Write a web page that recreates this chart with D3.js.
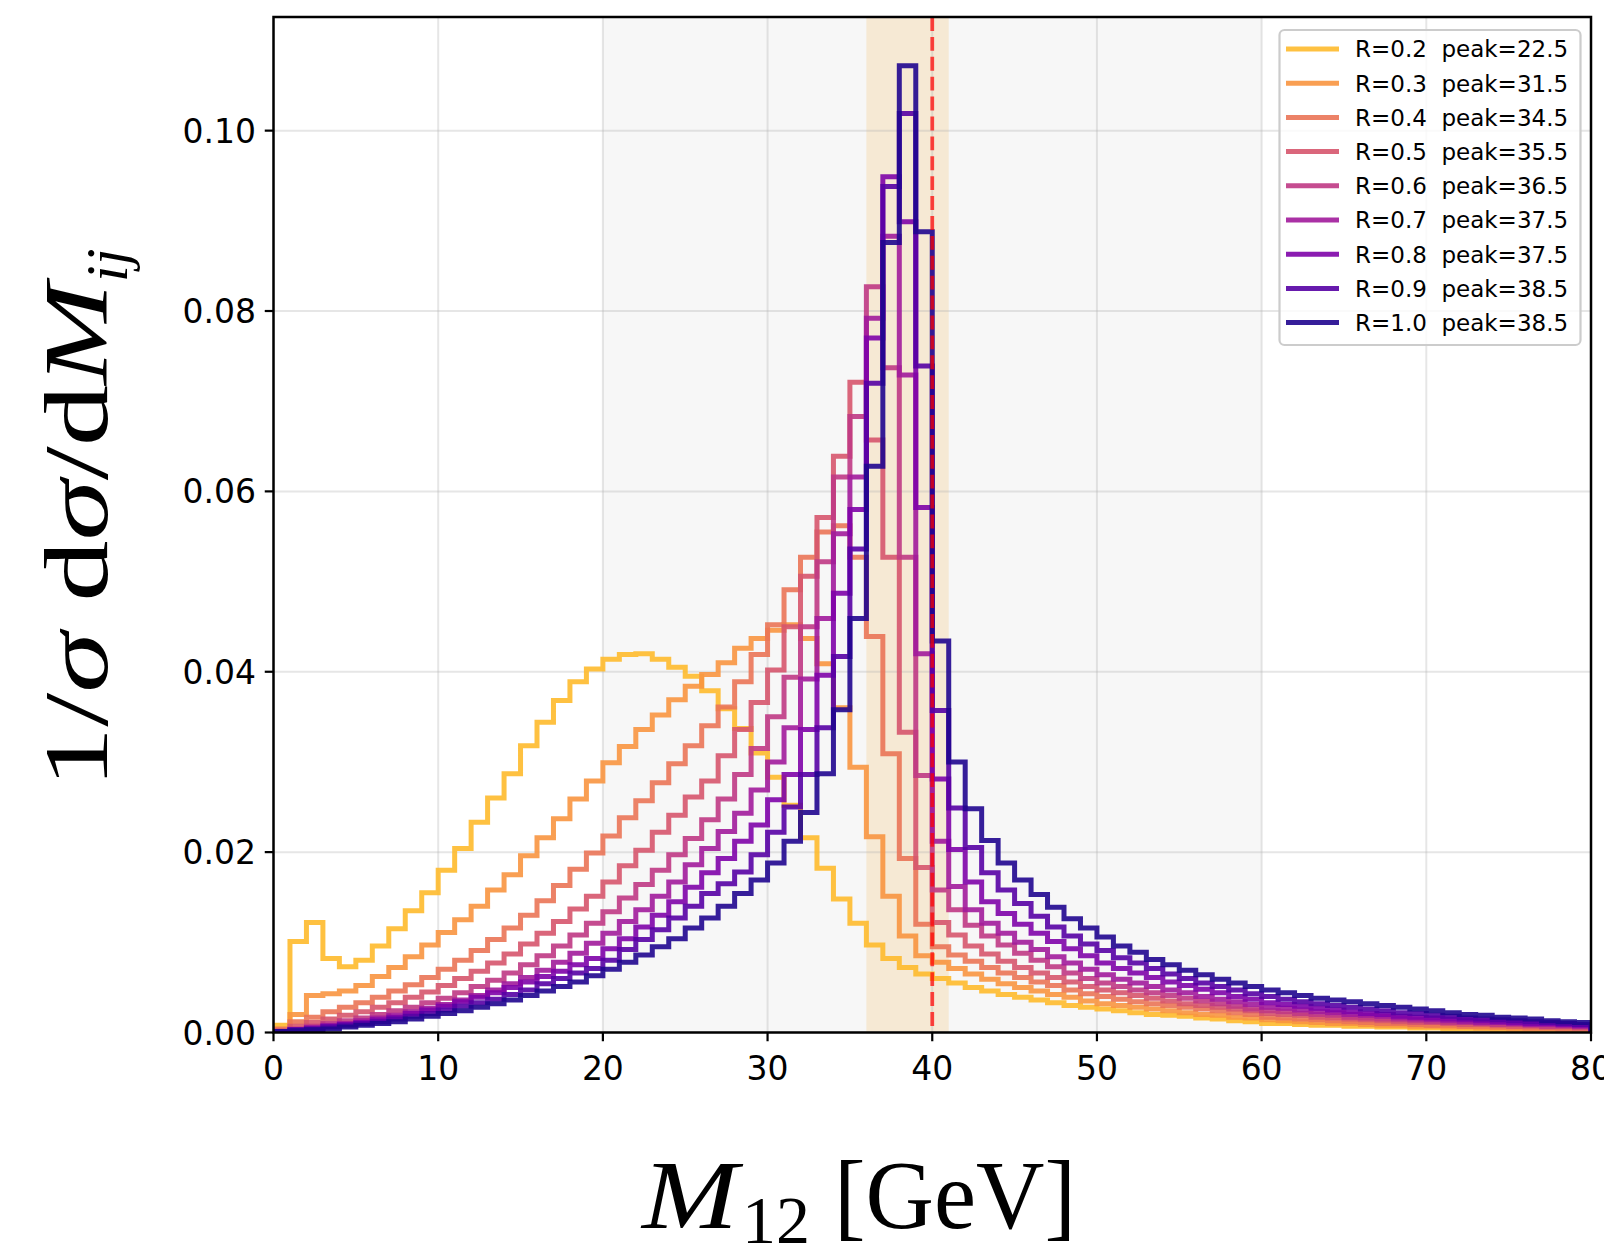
<!DOCTYPE html>
<html><head><meta charset="utf-8">
<script src="https://cdn.jsdelivr.net/npm/d3@7"></script>
<style>
html,body{margin:0;padding:0;background:#fff;}
svg{display:block;}
text{white-space:pre;}
</style></head>
<body>
<svg id="chart" width="1604" height="1247"></svg>
<script>
// ---------------- data ----------------
const binEdges = d3.range(0, 81); // 1 GeV bins, 0..80
const radii = ["0.2","0.3","0.4","0.5","0.6","0.7","0.8","0.9","1.0"];
const peaks = ["22.5","31.5","34.5","35.5","36.5","37.5","37.5","38.5","38.5"];
const h02 = [0.0008,0.0101,0.0122,0.0082,0.0073,0.0080,0.0096,0.0115,0.0135,0.0155,
 0.0180,0.0204,0.0233,0.0260,0.0287,0.0318,0.0344,0.0368,0.0389,0.0403,
 0.0414,0.0419,0.0420,0.0414,0.0405,0.0395,0.0379,0.0359,0.0337,0.0310,
 0.0283,0.0252,0.0216,0.0182,0.0148,0.0121,0.0097,0.0082,0.0072,0.0065,
 0.0060,0.0055,0.0050,0.0046,0.0042,0.0039,0.0036,0.0033,0.0030,0.0028,
 0.0026,0.0024,0.0022,0.0020,0.0019,0.0018,0.0016,0.0015,0.0013,0.0012,
 0.0010,0.0010,0.0009,0.0008,0.0008,0.0007,0.0007,0.0006,0.0006,0.0005,
 0.0005,0.0004,0.0004,0.0004,0.0003,0.0003,0.0003,0.0002,0.0002,0.0002];
const h03 = [0.0003,0.0020,0.0041,0.0043,0.0046,0.0052,0.0062,0.0072,0.0084,0.0097,
 0.0111,0.0125,0.0140,0.0158,0.0175,0.0196,0.0216,0.0237,0.0259,0.0279,
 0.0299,0.0317,0.0336,0.0352,0.0369,0.0384,0.0397,0.0410,0.0426,0.0437,
 0.0446,0.0452,0.0437,0.0409,0.0360,0.0294,0.0217,0.0151,0.0107,0.0085,
 0.0078,0.0071,0.0065,0.0059,0.0054,0.0050,0.0046,0.0042,0.0039,0.0035,
 0.0032,0.0030,0.0028,0.0026,0.0024,0.0022,0.0020,0.0019,0.0017,0.0016,
 0.0014,0.0013,0.0012,0.0011,0.0010,0.0010,0.0009,0.0008,0.0008,0.0007,
 0.0007,0.0006,0.0006,0.0005,0.0005,0.0004,0.0004,0.0004,0.0003,0.0003];
const h04 = [0.0004,0.0012,0.0017,0.0023,0.0028,0.0033,0.0039,0.0046,0.0053,0.0061,
 0.0070,0.0080,0.0091,0.0103,0.0116,0.0130,0.0146,0.0163,0.0181,0.0199,
 0.0218,0.0238,0.0257,0.0277,0.0298,0.0318,0.0340,0.0361,0.0389,0.0419,
 0.0452,0.0491,0.0527,0.0555,0.0562,0.0527,0.0439,0.0309,0.0193,0.0120,
 0.0095,0.0086,0.0079,0.0072,0.0066,0.0061,0.0056,0.0052,0.0047,0.0043,
 0.0040,0.0037,0.0034,0.0032,0.0030,0.0028,0.0026,0.0024,0.0022,0.0020,
 0.0017,0.0016,0.0015,0.0014,0.0013,0.0012,0.0011,0.0010,0.0010,0.0009,
 0.0008,0.0008,0.0007,0.0007,0.0006,0.0006,0.0005,0.0005,0.0004,0.0004];
const h05 = [0.0002,0.0007,0.0011,0.0015,0.0019,0.0023,0.0028,0.0033,0.0039,0.0045,
 0.0052,0.0060,0.0068,0.0077,0.0087,0.0098,0.0110,0.0123,0.0137,0.0151,
 0.0167,0.0185,0.0202,0.0222,0.0241,0.0261,0.0279,0.0307,0.0336,0.0366,
 0.0402,0.0450,0.0506,0.0571,0.0639,0.0721,0.0657,0.0527,0.0333,0.0183,
 0.0122,0.0108,0.0096,0.0087,0.0079,0.0072,0.0066,0.0061,0.0056,0.0051,
 0.0047,0.0044,0.0041,0.0038,0.0035,0.0032,0.0030,0.0028,0.0026,0.0024,
 0.0021,0.0020,0.0019,0.0017,0.0016,0.0015,0.0014,0.0013,0.0012,0.0011,
 0.0011,0.0010,0.0009,0.0009,0.0008,0.0007,0.0007,0.0006,0.0006,0.0005];
const h06 = [0.0001,0.0004,0.0007,0.0010,0.0013,0.0016,0.0020,0.0024,0.0028,0.0033,
 0.0038,0.0044,0.0051,0.0058,0.0066,0.0075,0.0085,0.0096,0.0108,0.0121,
 0.0134,0.0149,0.0164,0.0180,0.0197,0.0215,0.0236,0.0259,0.0286,0.0315,
 0.0350,0.0394,0.0450,0.0522,0.0616,0.0683,0.0827,0.0737,0.0527,0.0285,
 0.0158,0.0136,0.0119,0.0107,0.0097,0.0088,0.0080,0.0073,0.0066,0.0060,
 0.0055,0.0051,0.0047,0.0044,0.0041,0.0038,0.0035,0.0032,0.0029,0.0026,
 0.0024,0.0023,0.0021,0.0020,0.0019,0.0017,0.0016,0.0015,0.0014,0.0013,
 0.0012,0.0011,0.0011,0.0010,0.0009,0.0009,0.0008,0.0007,0.0007,0.0006];
const h07 = [0.0001,0.0003,0.0005,0.0008,0.0010,0.0013,0.0016,0.0019,0.0023,0.0027,
 0.0031,0.0036,0.0041,0.0047,0.0054,0.0061,0.0069,0.0078,0.0088,0.0099,
 0.0110,0.0123,0.0136,0.0151,0.0167,0.0186,0.0204,0.0223,0.0243,0.0269,
 0.0300,0.0338,0.0392,0.0459,0.0553,0.0616,0.0792,0.0883,0.0729,0.0420,
 0.0212,0.0162,0.0136,0.0121,0.0110,0.0100,0.0092,0.0084,0.0077,0.0070,
 0.0064,0.0059,0.0055,0.0051,0.0047,0.0044,0.0040,0.0037,0.0034,0.0031,
 0.0028,0.0027,0.0025,0.0023,0.0022,0.0020,0.0019,0.0018,0.0016,0.0015,
 0.0014,0.0013,0.0012,0.0011,0.0011,0.0010,0.0009,0.0009,0.0008,0.0007];
const h08 = [0.0001,0.0003,0.0005,0.0007,0.0009,0.0011,0.0014,0.0017,0.0021,0.0025,
 0.0029,0.0034,0.0039,0.0044,0.0050,0.0056,0.0062,0.0068,0.0075,0.0082,
 0.0093,0.0104,0.0117,0.0130,0.0145,0.0161,0.0177,0.0193,0.0212,0.0230,
 0.0258,0.0286,0.0336,0.0396,0.0487,0.0580,0.0770,0.0949,0.0899,0.0582,
 0.0281,0.0203,0.0167,0.0145,0.0132,0.0120,0.0110,0.0101,0.0093,0.0085,
 0.0077,0.0071,0.0066,0.0061,0.0056,0.0052,0.0048,0.0044,0.0040,0.0037,
 0.0033,0.0031,0.0029,0.0027,0.0025,0.0023,0.0021,0.0020,0.0018,0.0017,
 0.0016,0.0015,0.0014,0.0013,0.0012,0.0011,0.0010,0.0010,0.0009,0.0008];
const h09 = [0.0001,0.0003,0.0004,0.0006,0.0008,0.0010,0.0012,0.0015,0.0018,0.0021,
 0.0025,0.0029,0.0033,0.0037,0.0042,0.0047,0.0054,0.0060,0.0066,0.0071,
 0.0080,0.0092,0.0103,0.0114,0.0127,0.0140,0.0154,0.0165,0.0178,0.0197,
 0.0222,0.0250,0.0286,0.0338,0.0417,0.0536,0.0720,0.0938,0.1019,0.0739,
 0.0357,0.0249,0.0205,0.0177,0.0158,0.0143,0.0129,0.0117,0.0107,0.0098,
 0.0091,0.0083,0.0077,0.0071,0.0065,0.0060,0.0055,0.0051,0.0047,0.0043,
 0.0040,0.0037,0.0034,0.0032,0.0030,0.0028,0.0026,0.0024,0.0022,0.0021,
 0.0019,0.0018,0.0016,0.0015,0.0014,0.0013,0.0012,0.0011,0.0010,0.0009];
const h10 = [0.0001,0.0002,0.0003,0.0004,0.0006,0.0008,0.0010,0.0012,0.0015,0.0018,
 0.0021,0.0024,0.0028,0.0032,0.0036,0.0041,0.0046,0.0051,0.0056,0.0063,
 0.0070,0.0078,0.0086,0.0095,0.0104,0.0116,0.0127,0.0140,0.0154,0.0169,
 0.0188,0.0212,0.0244,0.0287,0.0358,0.0459,0.0628,0.0876,0.1072,0.0888,
 0.0434,0.0300,0.0248,0.0213,0.0188,0.0169,0.0153,0.0139,0.0126,0.0116,
 0.0106,0.0096,0.0089,0.0081,0.0075,0.0069,0.0064,0.0059,0.0055,0.0051,
 0.0047,0.0044,0.0041,0.0038,0.0036,0.0034,0.0032,0.0030,0.0028,0.0026,
 0.0024,0.0022,0.0020,0.0019,0.0017,0.0016,0.0015,0.0013,0.0012,0.0011];
const seriesValues = [h02,h03,h04,h05,h06,h07,h08,h09,h10];
const xTicks = [0,10,20,30,40,50,60,70,80];
const yTicks = [0,0.02,0.04,0.06,0.08,0.10];
const yTickLabels = ["0.00","0.02","0.04","0.06","0.08","0.10"];
const grayBand = [20,60];
const windowBand = [36,41];
const refLine = 40;
const yMax = 0.1126;

// ---------------- layout / style ----------------
const L = 273.5, R = 1591, T = 17, B = 1032.5;
const plasmaT = [0.85,0.75,0.65,0.55,0.45,0.35,0.25,0.15,0.03];
const colors = plasmaT.map(t => d3.interpolatePlasma(t));
const sans = "DejaVu Sans, Verdana, sans-serif";
const serif = "Liberation Serif, Times New Roman, serif";

const svg = d3.select("#chart");
svg.append("rect").attr("width",1604).attr("height",1247).attr("fill","#fff");

const x = d3.scaleLinear().domain([0,80]).range([L,R]);
const y = d3.scaleLinear().domain([0,yMax]).range([B,T]);

svg.append("defs").append("clipPath").attr("id","plotclip")
  .append("rect").attr("x",L).attr("y",T).attr("width",R-L).attr("height",B-T);

const plot = svg.append("g").attr("clip-path","url(#plotclip)");

// bands
plot.append("rect").attr("x",x(grayBand[0])).attr("y",T)
  .attr("width",x(grayBand[1])-x(grayBand[0])).attr("height",B-T).attr("fill","#f7f7f7");
plot.append("rect").attr("x",x(windowBand[0])).attr("y",T)
  .attr("width",x(windowBand[1])-x(windowBand[0])).attr("height",B-T).attr("fill","#f6e9d4");

// grid
const grid = plot.append("g").attr("stroke","#b0b0b0").attr("stroke-opacity",0.32).attr("stroke-width",2);
xTicks.forEach(v => grid.append("line").attr("x1",x(v)).attr("x2",x(v)).attr("y1",T).attr("y2",B));
yTicks.forEach(v => grid.append("line").attr("x1",L).attr("x2",R).attr("y1",y(v)).attr("y2",y(v)));

// histograms (step outlines)
const line = d3.line().x(d => x(d[0])).y(d => y(d[1]));
seriesValues.forEach((vals,i) => {
  const pts = [[binEdges[0],0]];
  vals.forEach((v,k) => { pts.push([binEdges[k],v]); pts.push([binEdges[k+1],v]); });
  pts.push([binEdges[80],0]);
  plot.append("path").attr("d",line(pts)).attr("fill","none")
    .attr("stroke",colors[i]).attr("stroke-width",5).attr("stroke-opacity",0.9)
    .attr("stroke-linejoin","miter");
});

// reference dashed line
plot.append("line").attr("x1",x(refLine)).attr("x2",x(refLine)).attr("y1",T).attr("y2",B)
  .attr("stroke","#ff0000").attr("stroke-opacity",0.72).attr("stroke-width",3.75)
  .attr("stroke-dasharray","13.9,6");

// spines
svg.append("rect").attr("x",L).attr("y",T).attr("width",R-L).attr("height",B-T)
  .attr("fill","none").attr("stroke","#000").attr("stroke-width",2.5);

// ticks
const tk = svg.append("g").attr("stroke","#000").attr("stroke-width",2.2);
xTicks.forEach(v => tk.append("line").attr("x1",x(v)).attr("x2",x(v)).attr("y1",B).attr("y2",B+8.75));
yTicks.forEach(v => tk.append("line").attr("x1",L-8.75).attr("x2",L).attr("y1",y(v)).attr("y2",y(v)));

const fsTick = 33;
xTicks.forEach(v => svg.append("text").attr("x",x(v)).attr("y",B+17.5+fsTick*0.9)
  .attr("text-anchor","middle").attr("font-family",sans).attr("font-size",fsTick).text(String(v)));
yTicks.forEach((v,i) => svg.append("text").attr("x",L-17.5).attr("y",y(v)+fsTick*0.365)
  .attr("text-anchor","end").attr("font-family",sans).attr("font-size",fsTick).text(yTickLabels[i]));

// legend
const lg = svg.append("g");
lg.append("rect").attr("x",1279.5).attr("y",30).attr("width",301).attr("height",315)
  .attr("rx",5).attr("fill","#fff").attr("fill-opacity",0.8)
  .attr("stroke","#cccccc").attr("stroke-width",2.2);
radii.forEach((r,i) => {
  const cy = 49 + i*34.2;
  lg.append("line").attr("x1",1286).attr("x2",1339).attr("y1",cy).attr("y2",cy)
    .attr("stroke",colors[i]).attr("stroke-width",5).attr("stroke-opacity",0.9);
  lg.append("text").attr("x",1355).attr("y",cy+8.4).attr("font-family",sans).attr("font-size",23)
    .text(`R=${r}  peak=${peaks[i]}`);
});

// x label: M_12 [GeV]
const xl = svg.append("g");
xl.append("text").attr("x",642).attr("y",1228).attr("font-family",serif).attr("font-style","italic")
  .attr("font-size",98).attr("textLength",96).attr("lengthAdjust","spacingAndGlyphs").text("M");
xl.append("text").attr("x",742).attr("y",1243).attr("font-family",serif)
  .attr("font-size",68).text("12");
xl.append("text").attr("x",834).attr("y",1228).attr("font-family",serif)
  .attr("font-size",98).attr("textLength",242).attr("lengthAdjust","spacingAndGlyphs").text("[GeV]");

// y label: 1/σ dσ/dM_ij (rotated)
const yl = svg.append("g").attr("transform","translate(107,788) rotate(-90)");
const ytxt = yl.append("text").attr("font-family",serif).attr("font-size",90);
ytxt.append("tspan").text("1/");
ytxt.append("tspan").attr("font-style","italic").text("σ");
ytxt.append("tspan").text(" d");
ytxt.append("tspan").attr("font-style","italic").text("σ");
ytxt.append("tspan").text("/d");
ytxt.append("tspan").attr("font-style","italic").text("M");
const natural = ytxt.node().getComputedTextLength();
const targetMain = 505;
ytxt.attr("transform",`scale(${targetMain/natural},1)`);
yl.append("text").attr("x",targetMain+1).attr("y",20).attr("font-family",serif)
  .attr("font-style","italic").attr("font-size",60).text("ij");
</script>
</body></html>
